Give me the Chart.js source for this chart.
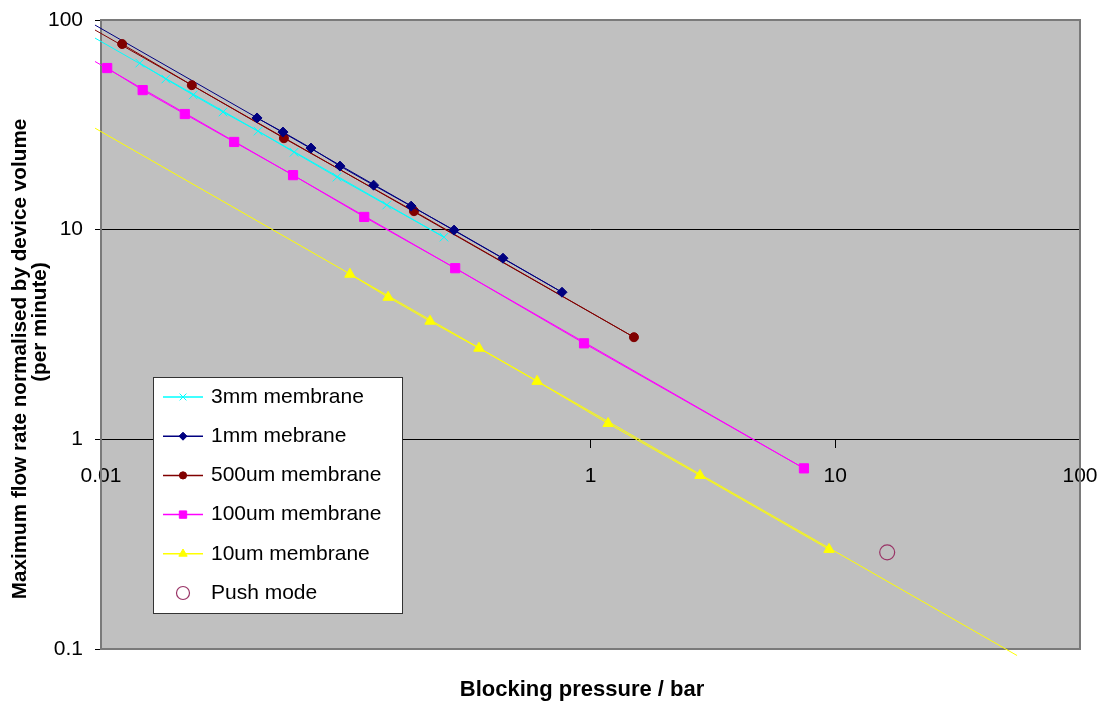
<!DOCTYPE html>
<html>
<head>
<meta charset="utf-8">
<script src="https://cdn.jsdelivr.net/npm/chart.js@4.4.0/dist/chart.umd.min.js"></script>
<style>
  html, body { margin: 0; padding: 0; background: #fff; }
  canvas { display: block; }
</style>
</head>
<body>
<canvas id="flowChart" width="1106" height="702"></canvas>
<script>
// Blocking pressure (bar) vs max flow rate normalised by device volume (per minute)
const seriesNames = ["3mm membrane", "1mm mebrane", "500um membrane", "100um membrane", "10um membrane", "Push mode"];

const press3mm = [0.0144, 0.0184, 0.0238, 0.0315, 0.0438, 0.0615, 0.0921, 0.147, 0.252];
const flow3mm  = [62.3, 52.3, 43.9, 36.4, 29.5, 23.4, 17.8, 13.1, 9.21];

const press1mm = [0.0434, 0.0554, 0.0721, 0.0947, 0.130, 0.185, 0.277, 0.439, 0.765];
const flow1mm  = [34.1, 29.2, 24.5, 20.1, 16.3, 12.95, 9.95, 7.31, 5.03];

const press500 = [0.0122, 0.0235, 0.0559, 0.190, 1.505];
const flow500  = [76.8, 48.9, 27.3, 12.25, 3.07];

const press100 = [0.0106, 0.0148, 0.0220, 0.0350, 0.0609, 0.119, 0.280, 0.941, 7.45];
const flow100  = [59.0, 46.3, 35.6, 26.2, 18.2, 11.5, 6.55, 2.87, 0.727];

const press10  = [0.104, 0.149, 0.221, 0.350, 0.605, 1.18, 2.80, 9.43];
const flow10   = [6.13, 4.76, 3.66, 2.72, 1.89, 1.19, 0.673, 0.2985];

const pressPush = [16.3];
const flowPush  = [0.289];

// power-law trend lines (start / end points)
const trendPress3mm = [0.00945, 0.252];  const trendFlow3mm = [82.0, 9.21];
const trendPress1mm = [0.00945, 0.765];  const trendFlow1mm = [94.6, 5.03];
const trendPress500 = [0.00945, 1.505];  const trendFlow500 = [89.6, 3.07];
const trendPress100 = [0.00945, 7.45];   const trendFlow100 = [63.4, 0.727];
const trendPress10  = [0.00945, 55.3];   const trendFlow10  = [30.5, 0.0931];

const xTicks = [0.01, 0.1, 1, 10, 100];
const yTicks = [0.1, 1, 10, 100];

const FONT = "'Liberation Sans', Arial, sans-serif";

const pts = (xs, ys) => xs.map((x, i) => ({ x, y: ys[i] }));

function series(label, xs, ys, color, style, radius) {
    return {
        label, data: pts(xs, ys),
        borderColor: color, backgroundColor: color,
        borderWidth: 1, pointStyle: style, pointRadius: radius,
        pointBorderWidth: 1, showLine: true, clip: false, order: 1
    };
}
function trend(xs, ys, color) {
    return {
        label: "", data: pts(xs, ys), borderColor: color,
        borderWidth: 1, pointRadius: 0, showLine: true, clip: false, order: 2
    };
}

const datasets = [
    trend(trendPress3mm, trendFlow3mm, "#00ffff"),
    trend(trendPress1mm, trendFlow1mm, "#000080"),
    trend(trendPress500, trendFlow500, "#800000"),
    trend(trendPress100, trendFlow100, "#ff00ff"),
    trend(trendPress10,  trendFlow10,  "#ffff00"),
    series(seriesNames[0], press3mm, flow3mm, "#00ffff", "crossRot", 6),
    series(seriesNames[1], press1mm, flow1mm, "#000080", "rectRot", 5),
    series(seriesNames[2], press500, flow500, "#800000", "circle", 4.5),
    series(seriesNames[3], press100, flow100, "#ff00ff", "rect", 6.5),
    series(seriesNames[4], press10,  flow10,  "#ffff00", "triangle", 6),
    {
        label: seriesNames[5], data: pts(pressPush, flowPush),
        borderColor: "#993366", backgroundColor: "rgba(0,0,0,0)",
        pointStyle: "circle", pointRadius: 7.5, pointBorderWidth: 1.2,
        showLine: false, order: 0
    }
];

// grey plot area, border and axis titles
const frame = {
    id: "frame",
    beforeDraw(chart) {
        const { ctx, chartArea: a } = chart;
        ctx.save();
        ctx.fillStyle = "#fff";
        ctx.fillRect(0, 0, chart.width, chart.height);
        ctx.fillStyle = "#c0c0c0";
        ctx.fillRect(a.left, a.top, a.right - a.left, a.bottom - a.top);
        ctx.restore();
    },
    beforeDatasetsDraw(chart) {
        const { ctx, chartArea: a } = chart;
        ctx.save();
        ctx.strokeStyle = "#7a7a7a";
        ctx.lineWidth = 2;
        ctx.strokeRect(a.left, a.top, a.right - a.left, a.bottom - a.top);
        ctx.restore();
    },
    afterDraw(chart) {
        const ctx = chart.ctx;
        const text = (str, x, y, font, rotate) => {
            ctx.save();
            ctx.fillStyle = "#000";
            ctx.textAlign = "center";
            ctx.textBaseline = "middle";
            ctx.font = font;
            ctx.translate(x, y);
            if (rotate) ctx.rotate(-Math.PI / 2);
            ctx.fillText(str, 0, 0);
            ctx.restore();
        };
        text("Blocking pressure / bar", 582, 690, "bold 22px " + FONT, false);
        text("Maximum flow rate normalised by device volume", 20, 359, "bold 20.7px " + FONT, true);
        text("(per minute)", 40, 322, "bold 20.7px " + FONT, true);
    }
};

// legend box sitting inside the plot area
const boxLegend = {
    id: "boxLegend",
    afterDraw(chart, args, opts) {
        const ctx = chart.ctx;
        const { x, y, w, h, rowY, rowH } = opts;
        ctx.save();
        ctx.fillStyle = "#fff";
        ctx.fillRect(x, y, w, h);
        ctx.strokeStyle = "#333";
        ctx.lineWidth = 1;
        ctx.strokeRect(x + 0.5, y + 0.5, w, h);
        const marks = chart.data.datasets.filter(d => d.label);
        marks.forEach((d, i) => {
            const cy = rowY + i * rowH;
            if (d.showLine) {
                ctx.strokeStyle = d.borderColor;
                ctx.lineWidth = 1.5;
                ctx.beginPath();
                ctx.moveTo(x + 10, cy);
                ctx.lineTo(x + 50, cy);
                ctx.stroke();
            }
            ctx.strokeStyle = d.borderColor;
            ctx.fillStyle = d.backgroundColor;
            ctx.lineWidth = d.pointBorderWidth;
            Chart.helpers.drawPoint(ctx, {
                pointStyle: d.pointStyle,
                radius: d.pointStyle === "circle" && !d.showLine ? 6.5 : d.pointRadius * 0.8,
                rotation: 0, borderWidth: d.pointBorderWidth
            }, x + 30, cy);
            ctx.fillStyle = "#000";
            ctx.font = "21px " + FONT;
            ctx.textAlign = "left";
            ctx.textBaseline = "middle";
            ctx.fillText(d.label, x + 58, cy);
        });
        ctx.restore();
    }
};

const blackAt = v => (v === 1 || v === 10) ? "#000" : "rgba(0,0,0,0)";

new Chart(document.getElementById("flowChart"), {
    type: "scatter",
    data: { datasets },
    plugins: [frame, boxLegend],
    options: {
        responsive: false,
        animation: false,
        devicePixelRatio: 1,
        layout: { padding: { left: 0, top: 20, right: 26, bottom: 53 } },
        plugins: {
            legend: { display: false },
            tooltip: { enabled: false },
            boxLegend: { x: 153, y: 377, w: 249, h: 236, rowY: 397, rowH: 39.2 }
        },
        scales: {
            x: {
                type: "logarithmic", min: 0.01, max: 100,
                position: { y: 1 },
                afterBuildTicks: s => { s.ticks = xTicks.map(v => ({ value: v })); },
                afterFit: s => { s.paddingLeft = 0; s.paddingRight = 0; },
                ticks: {
                    autoSkip: false, maxRotation: 0, padding: 16, color: "#000",
                    font: { family: FONT, size: 21 },
                    callback: v => String(v)
                },
                grid: { drawOnChartArea: false, tickLength: 8, tickColor: "#000", color: "#000" },
                border: { display: true, color: "#000", width: 1 }
            },
            y: {
                type: "logarithmic", min: 0.1, max: 100,
                afterBuildTicks: s => { s.ticks = yTicks.map(v => ({ value: v })); },
                afterFit: s => { s.width = 101; s.paddingTop = 0; s.paddingBottom = 0; },
                ticks: {
                    autoSkip: false, padding: 12, color: "#000",
                    font: { family: FONT, size: 21 },
                    callback: v => String(v)
                },
                grid: {
                    color: ctx => blackAt(ctx.tick && ctx.tick.value),
                    tickColor: "#000", tickLength: 6, lineWidth: 1
                },
                border: { display: false }
            }
        }
    }
});
</script>
</body>
</html>
